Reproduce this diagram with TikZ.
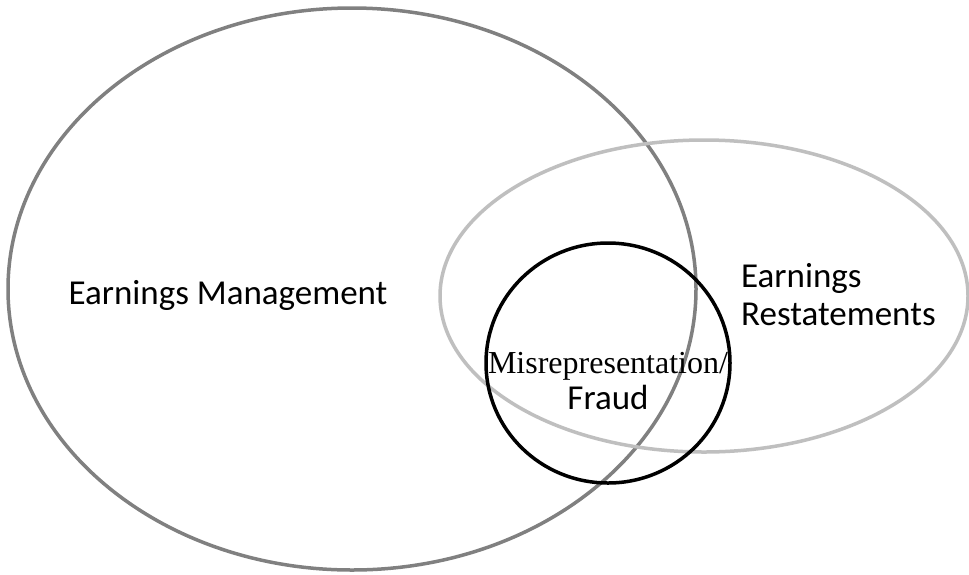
\documentclass[tikz,border=0pt]{standalone}
\usepackage{fontspec}
\setmainfont{Carlito}
\newfontfamily\timesf{Liberation Serif}
\begin{document}
\begin{tikzpicture}[x=1pt,y=-1pt,
  ring/.style={line width=3.5pt},
  lbl/.style={font=\fontsize{35}{38}\selectfont, inner sep=0pt}]
\useasboundingbox[fill=white] (0,0) rectangle (969,574);
\draw[ring, color=black!50] (352,289) ellipse [x radius=344, y radius=281];
\draw[ring, color=black!25] (704,296) ellipse [x radius=264, y radius=156];
\draw[ring, color=black] (608,363) ellipse [x radius=122, y radius=120];
\node[lbl] (em) at (228,295) {Earnings Management};
\node[lbl, align=left, anchor=west] (er) at (741,295) {Earnings\\Restatements};
\node[lbl, align=center, font=\fontsize{35}{36}\selectfont] (mf) at (608,381) {{\timesf\fontsize{32}{36}\selectfont Misrepresentation/}\\Fraud};
\end{tikzpicture}
\end{document}
